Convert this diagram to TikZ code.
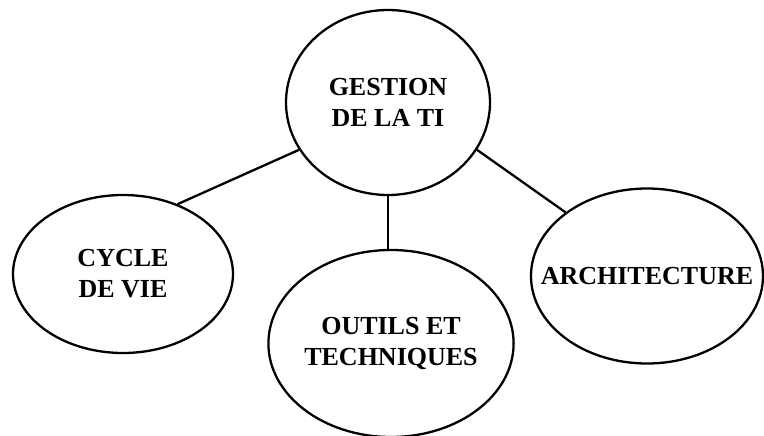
\documentclass[tikz,border=0pt]{standalone}
\usepackage{fontspec}
\setmainfont{Liberation Serif}
\usetikzlibrary{shapes.geometric}
\begin{document}
\begin{tikzpicture}[x=1pt,y=-1pt,
  bubble/.style={ellipse,draw=black,line width=2.3pt,inner sep=0pt,align=center,
    font=\fontsize{26}{31}\selectfont\bfseries},
  link/.style={draw=black,line width=2.3pt}]
\useasboundingbox (0,0) rectangle (764,436);
\node[bubble,minimum width=204pt,minimum height=185pt] (top) at (388,102.5) {GESTION\\DE LA TI};
\node[bubble,minimum width=220pt,minimum height=158pt] (left) at (123,274) {CYCLE\\DE VIE};
\node[bubble,minimum width=228pt,minimum height=187pt] (bottom) at (391,343.5) {OUTILS ET\\TECHNIQUES};
\node[bubble,minimum width=232pt,minimum height=175pt] (right) at (647,276) {\makebox[0pt]{ARCHITECTURE}};
\draw[link] (top.208.5) -- (left.52.4);
\draw[link] (top.332) -- (right.142.8);
\draw[link] (top.south) -- (top.south |- bottom.north);
\end{tikzpicture}
\end{document}
